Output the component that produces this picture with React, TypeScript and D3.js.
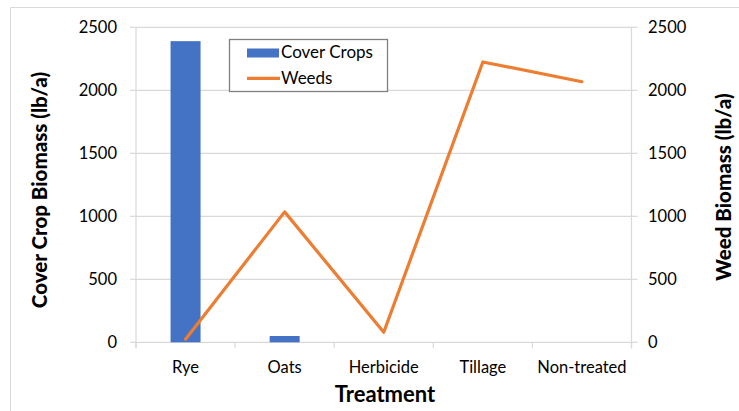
import { useEffect, useRef } from 'react';
import * as d3 from 'd3';

const categories = ['Rye', 'Oats', 'Herbicide', 'Tillage', 'Non-treated'];
const coverCrops = [2390, 50, 0, 0, 0];
const weeds = [25, 1035, 80, 2225, 2068];
const yTicks = [0, 500, 1000, 1500, 2000, 2500];

const W = 739;
const H = 411;
const FONT = 'Lato, "Open Sans", sans-serif';

export default function App() {
  const svgRef = useRef<SVGSVGElement>(null);

  useEffect(() => {
    if (!svgRef.current) return;
    const svg = d3.select(svgRef.current);
    svg.selectAll('*').remove();

    const left = 136, right = 631.5, top = 27.3, bottom = 342.3;
    const x = d3.scaleBand<string>().domain(categories).range([left, right]);
    const y = d3.scaleLinear().domain([0, 2500]).range([bottom, top]);
    const grid = '#d9d9d9';

    // outer frame
    svg.append('path').attr('d', `M10.5,${H}V7.5H${W}`)
      .attr('fill', 'none').attr('stroke', grid).attr('stroke-width', 1);

    // gridlines
    svg.append('g').selectAll('line').data(yTicks).join('line')
      .attr('x1', left).attr('x2', right)
      .attr('y1', (d) => y(d)).attr('y2', (d) => y(d))
      .attr('stroke', grid).attr('stroke-width', 1.2);

    // axes lines
    svg.append('line').attr('x1', left).attr('x2', left).attr('y1', top).attr('y2', bottom + 6)
      .attr('stroke', grid).attr('stroke-width', 1.2);
    svg.append('line').attr('x1', right).attr('x2', right).attr('y1', top).attr('y2', bottom + 6)
      .attr('stroke', grid).attr('stroke-width', 1.2);

    // y ticks
    svg.append('g').selectAll('line').data(yTicks).join('line')
      .attr('x1', left - 6).attr('x2', left)
      .attr('y1', (d) => y(d)).attr('y2', (d) => y(d))
      .attr('stroke', grid).attr('stroke-width', 1.2);
    svg.append('g').selectAll('line').data(yTicks).join('line')
      .attr('x1', right).attr('x2', right + 6)
      .attr('y1', (d) => y(d)).attr('y2', (d) => y(d))
      .attr('stroke', grid).attr('stroke-width', 1.2);

    // x ticks at band boundaries
    const bounds = categories.map((c) => x(c)!).concat([right]);
    svg.append('g').selectAll('line').data(bounds).join('line')
      .attr('x1', (d) => d).attr('x2', (d) => d)
      .attr('y1', bottom).attr('y2', bottom + 6)
      .attr('stroke', grid).attr('stroke-width', 1.2);

    // tick labels
    svg.append('g').selectAll('text').data(yTicks).join('text')
      .attr('x', 117).attr('y', (d) => y(d)).attr('dy', '0.35em')
      .attr('text-anchor', 'end').attr('font-family', FONT).attr('font-size', 16.5).attr('fill', '#000')
      .text((d) => String(d));
    svg.append('g').selectAll('text').data(yTicks).join('text')
      .attr('x', 648).attr('y', (d) => y(d)).attr('dy', '0.35em')
      .attr('text-anchor', 'start').attr('font-family', FONT).attr('font-size', 16.5).attr('fill', '#000')
      .text((d) => String(d));
    svg.append('g').selectAll('text').data(categories).join('text')
      .attr('x', (d) => x(d)! + x.bandwidth() / 2).attr('y', 367).attr('dy', '0.35em')
      .attr('text-anchor', 'middle').attr('font-family', FONT).attr('font-size', 16.5).attr('fill', '#000')
      .text((d) => d);

    // bars
    const barW = 30;
    svg.append('g').selectAll('rect').data(categories.map((c, i) => ({ c, v: coverCrops[i] })))
      .join('rect')
      .attr('x', (d) => x(d.c)! + x.bandwidth() / 2 - barW / 2)
      .attr('y', (d) => y(d.v))
      .attr('width', barW)
      .attr('height', (d) => bottom - y(d.v))
      .attr('fill', '#4472c4');

    // weeds line
    const line = d3.line<number>()
      .x((_, i) => x(categories[i])! + x.bandwidth() / 2)
      .y((d) => y(d));
    svg.append('path').attr('d', line(weeds))
      .attr('fill', 'none').attr('stroke', '#ed7d31').attr('stroke-width', 3.2)
      .attr('stroke-linejoin', 'round').attr('stroke-linecap', 'round');

    // legend
    const lg = svg.append('g');
    lg.append('rect').attr('x', 229.5).attr('y', 39.5).attr('width', 158).attr('height', 52)
      .attr('fill', '#fff').attr('stroke', '#808080').attr('stroke-width', 1.3);
    lg.append('rect').attr('x', 247).attr('y', 48.5).attr('width', 32).attr('height', 9).attr('fill', '#4472c4');
    lg.append('text').attr('x', 281).attr('y', 58).attr('font-family', FONT).attr('font-size', 17)
      .attr('fill', '#000').text('Cover Crops');
    lg.append('line').attr('x1', 247).attr('x2', 280).attr('y1', 78.3).attr('y2', 78.3)
      .attr('stroke', '#ed7d31').attr('stroke-width', 3.2);
    lg.append('text').attr('x', 281).attr('y', 84).attr('font-family', FONT).attr('font-size', 17)
      .attr('fill', '#000').text('Weeds');

    // axis titles
    svg.append('text').attr('transform', 'translate(40,190) rotate(-90)')
      .attr('text-anchor', 'middle').attr('dy', '0.35em')
      .attr('font-family', FONT).attr('font-weight', 900).attr('font-size', 20.5).attr('fill', '#000')
      .text('Cover Crop Biomass (lb/a)');
    svg.append('text').attr('transform', 'translate(724,187) rotate(-90)')
      .attr('text-anchor', 'middle').attr('dy', '0.35em')
      .attr('font-family', FONT).attr('font-weight', 900).attr('font-size', 20.5).attr('fill', '#000')
      .text('Weed Biomass (lb/a)');
    svg.append('text').attr('x', 385).attr('y', 394).attr('dy', '0.35em')
      .attr('text-anchor', 'middle')
      .attr('font-family', FONT).attr('font-weight', 700).attr('font-size', 22).attr('fill', '#000')
      .text('Treatment');
  }, []);

  return (
    <svg ref={svgRef} width={W} height={H}
      style={{ position: 'absolute', left: 0, top: 0, background: '#fff' }} />
  );
}
